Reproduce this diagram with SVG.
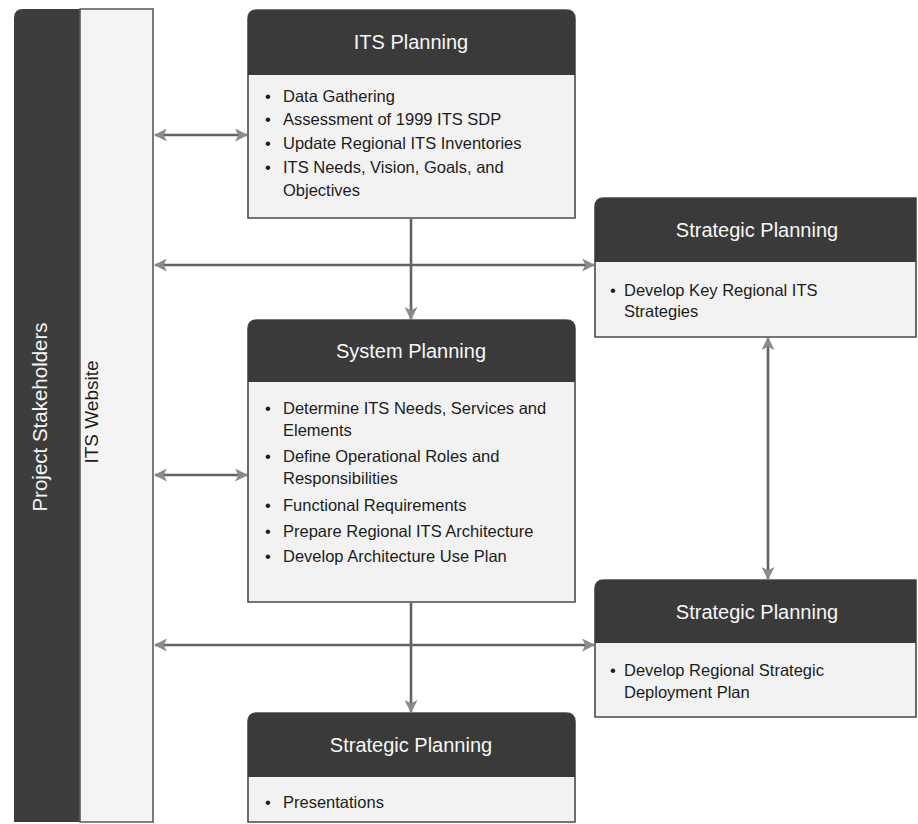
<svg xmlns="http://www.w3.org/2000/svg" width="918" height="824" viewBox="0 0 918 824">
<style>
.box{fill:#f2f2f2;stroke:#4a4a4a;stroke-width:1.6}
.hdr{fill:#3a3a3a}
.ht{font-family:"Liberation Sans",Arial,sans-serif;font-size:20px;fill:#f7f7f7;text-anchor:middle}
.bt{font-family:"Liberation Sans",Arial,sans-serif;font-size:16.5px;fill:#1c1c1c}
.side{font-family:"Liberation Sans",Arial,sans-serif}
.con{stroke:#626262;stroke-width:2.6;fill:none}
</style>
<defs>
<marker id="ah" viewBox="0 0 12 12" refX="11" refY="6" markerWidth="13" markerHeight="13" markerUnits="userSpaceOnUse" orient="auto-start-reverse">
<path d="M0,0 L12,6 L0,12 L3,6 Z" fill="#8a8a8a"/>
</marker>
</defs>
<rect width="918" height="824" fill="#ffffff"/>

<g id="project-stakeholders">
<path d="M14,822 V18 Q14,9 23,9 H80 V822 Z" fill="#3d3d3d"/>
<text class="side" transform="translate(47,417) rotate(-90)" text-anchor="middle" font-size="20.5" fill="#f5f5f5">Project Stakeholders</text>
</g>

<g id="its-website">
<path d="M80,9 H153 V822 H80 Z" fill="#f4f4f4" stroke="#5a5a5a" stroke-width="1.6"/>
<text class="side" transform="translate(98,412) rotate(-90)" text-anchor="middle" font-size="19" fill="#1c1c1c">ITS Website</text>
</g>

<g id="its-planning">
<path class="box" d="M248,218 V19 Q248,10 257,10 H566 Q575,10 575,19 V218 Z"/>
<path class="hdr" d="M248,75 V19 Q248,10 257,10 H566 Q575,10 575,19 V75 Z"/>
<text class="ht" x="411" y="49">ITS Planning</text>
<text class="bt" x="265" y="102">•</text><text class="bt" x="283" y="102">Data Gathering</text>
<text class="bt" x="265" y="125">•</text><text class="bt" x="283" y="125">Assessment of 1999 ITS SDP</text>
<text class="bt" x="265" y="149">•</text><text class="bt" x="283" y="149">Update Regional ITS Inventories</text>
<text class="bt" x="265" y="173">•</text><text class="bt" x="283" y="173">ITS Needs, Vision, Goals, and</text>
<text class="bt" x="283" y="196">Objectives</text>
</g>

<g id="strategic-planning-1">
<path class="box" d="M595,337 V207 Q595,198 604,198 H916 V337 Z"/>
<path class="hdr" d="M595,262 V207 Q595,198 604,198 H916 V262 Z"/>
<text class="ht" x="757" y="237">Strategic Planning</text>
<text class="bt" x="610" y="296">•</text><text class="bt" x="624" y="296">Develop Key Regional ITS</text>
<text class="bt" x="624" y="317">Strategies</text>
</g>

<g id="system-planning">
<path class="box" d="M248,602 V329 Q248,320 257,320 H566 Q575,320 575,329 V602 Z"/>
<path class="hdr" d="M248,382 V329 Q248,320 257,320 H566 Q575,320 575,329 V382 Z"/>
<text class="ht" x="411" y="358">System Planning</text>
<text class="bt" x="265" y="414">•</text><text class="bt" x="283" y="414">Determine ITS Needs, Services and</text>
<text class="bt" x="283" y="436">Elements</text>
<text class="bt" x="265" y="462">•</text><text class="bt" x="283" y="462">Define Operational Roles and</text>
<text class="bt" x="283" y="484">Responsibilities</text>
<text class="bt" x="265" y="511">•</text><text class="bt" x="283" y="511">Functional Requirements</text>
<text class="bt" x="265" y="537">•</text><text class="bt" x="283" y="537">Prepare Regional ITS Architecture</text>
<text class="bt" x="265" y="562">•</text><text class="bt" x="283" y="562">Develop Architecture Use Plan</text>
</g>

<g id="strategic-planning-2">
<path class="box" d="M595,717 V589 Q595,580 604,580 H916 V717 Z"/>
<path class="hdr" d="M595,643 V589 Q595,580 604,580 H916 V643 Z"/>
<text class="ht" x="757" y="619">Strategic Planning</text>
<text class="bt" x="610" y="676">•</text><text class="bt" x="624" y="676">Develop Regional Strategic</text>
<text class="bt" x="624" y="698">Deployment Plan</text>
</g>

<g id="strategic-planning-3">
<path class="box" d="M248,822 V722 Q248,713 257,713 H566 Q575,713 575,722 V822 Z"/>
<path class="hdr" d="M248,777 V722 Q248,713 257,713 H566 Q575,713 575,722 V777 Z"/>
<text class="ht" x="411" y="752">Strategic Planning</text>
<text class="bt" x="265" y="808">•</text><text class="bt" x="283" y="808">Presentations</text>
</g>

<g id="connectors">
<line class="con" x1="155" y1="135" x2="247" y2="135" marker-start="url(#ah)" marker-end="url(#ah)"/>
<line class="con" x1="155" y1="265" x2="594" y2="265" marker-start="url(#ah)" marker-end="url(#ah)"/>
<line class="con" x1="155" y1="475" x2="247" y2="475" marker-start="url(#ah)" marker-end="url(#ah)"/>
<line class="con" x1="155" y1="645" x2="594" y2="645" marker-start="url(#ah)" marker-end="url(#ah)"/>
<line class="con" x1="411" y1="219" x2="411" y2="319" marker-end="url(#ah)"/>
<line class="con" x1="411" y1="603" x2="411" y2="712" marker-end="url(#ah)"/>
<line class="con" x1="768" y1="338" x2="768" y2="579" marker-start="url(#ah)" marker-end="url(#ah)"/>
</g>
</svg>
